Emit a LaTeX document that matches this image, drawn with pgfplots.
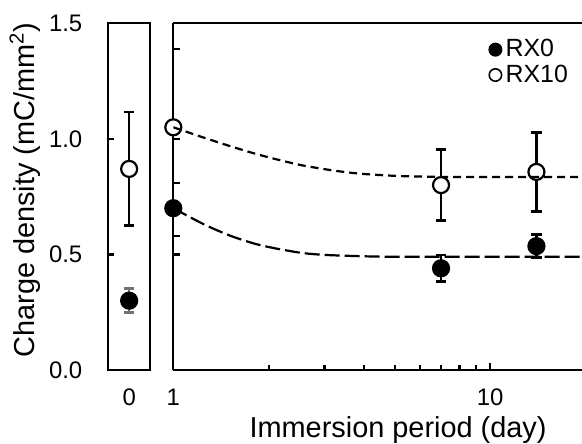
\documentclass[border=0pt]{standalone}
\usepackage{fontspec}
\setmainfont{Liberation Sans}
\usepackage{pgfplots}
\pgfplotsset{compat=1.18}
\begin{document}
\begin{tikzpicture}
\useasboundingbox (0bp,0bp) rectangle (291bp,222bp);
\pgfplotsset{
  common/.style={
    scale only axis, anchor=south west,
    height=173.35bp,
    ymin=0, ymax=1.5,
    axis line style={line width=1.1bp},
    tick style={line width=1.1bp, black},
    tick align=inside,
    major tick length=3bp,
    minor tick length=2.5bp,
    ytick pos=left,
    tick label style={font=\fontsize{12}{14}\selectfont},
    /pgf/number format/assume math mode=true,
    clip mode=individual,
  },
  rx0/.style={only marks, mark=*, mark size=4bp,
    mark options={fill=black, draw=black, line width=1.1bp}},
  rx10/.style={only marks, mark=*, mark size=4bp,
    mark options={fill=white, draw=black, line width=1.1bp}},
  ebar/.style={error bars/y dir=both, error bars/y explicit,
    error bars/error bar style={line width=1.3bp, #1},
    error bars/error mark options={rotate=90, mark size=2.6bp, line width=1.3bp, #1}},
}

% day 0
\begin{axis}[common, at={(54.15bp,37bp)}, width=20.85bp,
  xmin=-1, xmax=1, xtick={0}, xticklabels={0},
  x tick style={draw=none},
  xticklabel style={yshift=-6bp},
  ytick={0,0.5,1,1.5},
  yticklabel style={xshift=-9.5bp, /pgf/number format/.cd, fixed, fixed zerofill, precision=1},
  ylabel={Charge density (mC/mm\textsuperscript{2})},
  ylabel style={at={(axis description cs:-1.78,0.519)}, anchor=base,
    font=\fontsize{14.5}{17}\selectfont},
]
\addplot[rx0, ebar=black!55] coordinates {(0,0.30) +- (0,0.052)};
\addplot[rx10, ebar=black] coordinates {(0,0.87) +- (0,0.246)};
\end{axis}

% day 1 onwards, log scale
\begin{axis}[common, at={(86.65bp,37bp)}, width=204.35bp,
  xmode=log, xmin=1, xmax=19.5,
  axis x line*=box, axis y line*=left, xtick pos=bottom,
  xtick={1,10}, xticklabels={1,10}, minor xtick={2,3,4,5,6,7,8,9},
  major tick length=3.5bp,
  xticklabel style={yshift=-6bp},
  ytick={0.5,0.58,0.81,1.0,1.39}, yticklabels={},
  xlabel={Immersion period (day)},
  xlabel style={at={(axis description cs:0.55,-0.196)}, anchor=base,
    font=\fontsize{14.5}{17}\selectfont},
  legend style={at={(rel axis cs:0.772,0.966)}, anchor=north west,
    draw=none, fill=none, inner sep=0pt, row sep=-1.5bp,
    font=\fontsize{12.5}{14}\selectfont},
  legend cell align=left,
  legend image code/.code={\draw[#1] plot coordinates {(3bp,0bp)};},
]
\addlegendimage{only marks, mark=*, mark size=3.1bp, mark options={fill=black, draw=black, line width=0.8bp}}
\addlegendentry{RX0}
\addlegendimage{only marks, mark=*, mark size=3.1bp, mark options={fill=white, draw=black, line width=0.8bp}}
\addlegendentry{RX10}

\addplot[forget plot, rx0, ebar=black] coordinates {
  (1,0.70) +- (0,0)
  (7,0.44) +- (0,0.058)
  (14,0.536) +- (0,0.05)
};
\addplot[forget plot, rx10, ebar=black] coordinates {
  (1,1.05) +- (0,0)
  (7,0.80) +- (0,0.153)
  (14,0.857) +- (0,0.17)
};
% fitted trends
\addplot[forget plot, black, line width=1.1bp, dash pattern=on 7.5bp off 2.5bp, smooth] coordinates {
  (1,0.70) (1.25,0.63) (1.5,0.583) (1.75,0.552) (2,0.532) (2.5,0.508)
  (3,0.498) (4,0.492) (5,0.490) (8,0.490) (19.5,0.490)
};
\addplot[forget plot, black, line width=1.1bp, dash pattern=on 4bp off 2.5bp, smooth] coordinates {
  (1,1.05) (1.25,1.005) (1.5,0.97) (1.75,0.942) (2,0.92) (2.5,0.888)
  (3,0.869) (3.5,0.856) (4,0.848) (5,0.840) (6,0.837) (8,0.835) (19.5,0.835)
};
\end{axis}
\end{tikzpicture}
\end{document}
